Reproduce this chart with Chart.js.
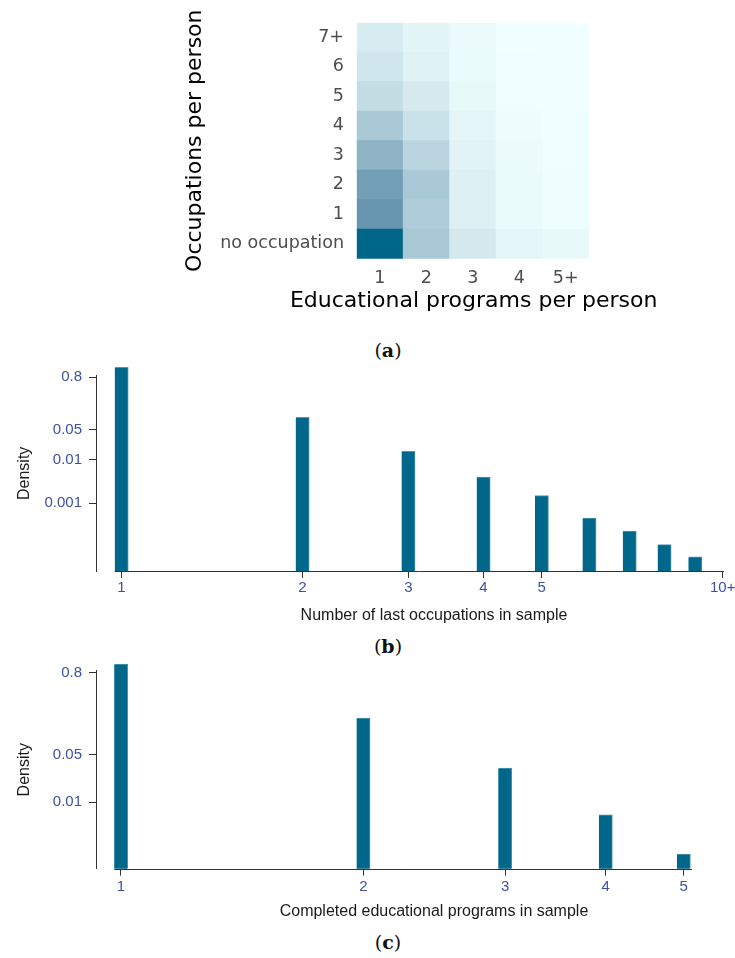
<!DOCTYPE html>
<html><head><meta charset="utf-8">
<script src="https://cdn.jsdelivr.net/npm/chart.js@4.4.1/dist/chart.umd.min.js"></script>
<style>
html,body{margin:0;padding:0;background:#fff;width:735px;height:958px;overflow:hidden;}
canvas.c{position:absolute;left:0;}
.cap{position:absolute;left:0;width:776px;text-align:center;font-family:"DejaVu Serif",serif;font-size:19px;line-height:24px;height:24px;color:#111;}
.xt{position:absolute;left:0;width:868px;text-align:center;font-family:"Liberation Sans",Arial,sans-serif;font-size:16px;line-height:20px;height:20px;color:#1a1a1a;white-space:nowrap;}
.ht{position:absolute;left:273.7px;width:400px;text-align:center;font-family:"DejaVu Sans",sans-serif;font-size:22px;line-height:26px;height:26px;color:#000;white-space:nowrap;}
</style></head>
<body>
<canvas id="ca" class="c" style="top:0px" width="735" height="330"></canvas>
<div class="ht" style="top:287.4px">Educational programs per person</div>
<div class="cap" style="top:338px">(<b>a</b>)</div>
<canvas id="cb" class="c" style="top:355px" width="735" height="275"></canvas>
<div class="xt" style="top:605px">Number of last occupations in sample</div>
<div class="cap" style="top:634px">(<b>b</b>)</div>
<canvas id="cc" class="c" style="top:650px" width="735" height="275"></canvas>
<div class="xt" style="top:901px">Completed educational programs in sample</div>
<div class="cap" style="top:930px">(<b>c</b>)</div>
<script>
// ---------- Panel (a): heatmap data (relative intensity 0..1) ----------
const eduLabels = ['1', '2', '3', '4', '5+'];
const occLabels = ['no occupation', '1', '2', '3', '4', '5', '6', '7+'];
const shareNoOcc = [1.00, 0.37, 0.15, 0.060, 0.040];
const shareOcc1  = [0.70, 0.34, 0.10, 0.030, 0.010];
const shareOcc2  = [0.65, 0.36, 0.10, 0.030, 0.008];
const shareOcc3  = [0.51, 0.28, 0.077, 0.020, 0.007];
const shareOcc4  = [0.36, 0.20, 0.060, 0.014, 0.004];
const shareOcc5  = [0.23, 0.14, 0.040, 0.007, 0.002];
const shareOcc6  = [0.17, 0.085, 0.030, 0.003, 0.001];
const shareOcc7p = [0.13, 0.070, 0.028, 0.000, 0.000];

// ---------- Panel (b) ----------
const occCounts  = [1, 2, 3, 4, 5, 6, 7, 8, 9];
const occDensity = [1.36, 0.0953, 0.0156, 0.00398, 0.00148, 0.000451, 0.000226, 0.000109, 0.0000575];
const occTickValues = [1, 2, 3, 4, 5, 10];
const occTickLabels = ['1', '2', '3', '4', '5', '10+'];
const occDensTickValues = [0.001, 0.01, 0.05, 0.8];
const occDensTickLabels = ['0.001', '0.01', '0.05', '0.8'];

// ---------- Panel (c) ----------
const eduCounts  = [1, 2, 3, 4, 5];
const eduDensity = [1.07, 0.172, 0.0316, 0.0065, 0.00172];
const eduTickValues = [1, 2, 3, 4, 5];
const eduTickLabels = ['1', '2', '3', '4', '5'];
const eduDensTickValues = [0.01, 0.05, 0.8];
const eduDensTickLabels = ['0.01', '0.05', '0.8'];

Chart.defaults.animation = false;
Chart.defaults.plugins.legend.display = false;
Chart.defaults.plugins.tooltip.enabled = false;
Chart.defaults.responsive = false;

function heatColor(t) {
  const stops = [[0, [240, 255, 255]], [0.7, [104, 150, 176]], [1, [0, 102, 136]]];
  for (let i = 1; i < stops.length; i++) {
    if (t <= stops[i][0]) {
      const [t0, c0] = stops[i - 1], [t1, c1] = stops[i];
      const f = (t - t0) / (t1 - t0);
      const c = c0.map((v, k) => Math.round(v + (c1[k] - v) * f));
      return `rgb(${c[0]},${c[1]},${c[2]})`;
    }
  }
  return 'rgb(0,102,136)';
}

const heatRows = [shareNoOcc, shareOcc1, shareOcc2, shareOcc3, shareOcc4, shareOcc5, shareOcc6, shareOcc7p];

new Chart(document.getElementById('ca'), {
  type: 'bar',
  data: {
    labels: eduLabels,
    datasets: heatRows.map((row, i) => ({
      label: occLabels[i],
      data: row.map(() => 1),
      backgroundColor: row.map(heatColor),
      borderWidth: 0,
      barPercentage: 1,
      categoryPercentage: 1
    }))
  },
  options: {
    layout: { padding: { top: 22.7, right: 146, left: 0, bottom: 0 } },
    scales: {
      x: {
        stacked: true,
        grid: { display: false, drawTicks: false },
        border: { display: false },
        ticks: { color: '#4d4d4d', font: { family: 'DejaVu Sans', size: 17.5 }, padding: 9.5, maxRotation: 0 },
        afterFit(s) { s.height = 71.3; s.paddingLeft = 0; s.paddingRight = 0; }
      },
      y: {
        type: 'linear', stacked: true, min: 0, max: occLabels.length,
        grid: { display: false, drawTicks: false },
        border: { display: false },
        afterBuildTicks(s) { s.ticks = occLabels.map((_, i) => ({ value: i + 0.5 })); },
        ticks: { color: '#4d4d4d', font: { family: 'DejaVu Sans', size: 17.5 }, padding: 12.7,
                 autoSkip: false, callback: (v, i) => occLabels[i] },
        title: { display: true, text: 'Occupations per person', color: '#000',
                 font: { family: 'DejaVu Sans', size: 22 }, padding: { top: 182, bottom: 0 } },
        afterFit(s) { s.width = 356.7; s.paddingTop = 0; s.paddingBottom = 0; }
      }
    }
  }
});

const axisLinePlugin = {
  id: 'axisLine',
  afterDatasetsDraw(chart, args, opts) {
    const { ctx, chartArea, scales: { x } } = chart;
    const x0 = x.getPixelForValue(opts.from) - opts.half;
    ctx.save();
    ctx.strokeStyle = '#333';
    ctx.lineWidth = 1;
    ctx.beginPath();
    ctx.moveTo(x0, Math.round(chartArea.bottom) + 0.5);
    ctx.lineTo(chartArea.right, Math.round(chartArea.bottom) + 0.5);
    ctx.stroke();
    ctx.restore();
  }
};

function densityChart(id, counts, dens, xTicks, xLabels, yTicks, yLabels, xmin, xmax, ymin, ymax, padRight, xHeight, xPad) {
  const tickFont = { family: 'Liberation Sans', size: 15 };
  return new Chart(document.getElementById(id), {
    type: 'bar',
    data: {
      datasets: [{
        data: counts.map((c, i) => ({ x: c, y: dens[i] })),
        backgroundColor: '#00668a',
        borderColor: '#4f98b2',
        borderWidth: { top: 1, right: 1, left: 0, bottom: 0 },
        borderSkipped: 'start',
        barThickness: 13.5,
        clip: false
      }]
    },
    options: {
      layout: { padding: { top: 20.7, right: padRight, left: 0, bottom: 0 } },
      plugins: { axisLine: { from: counts[0], half: 6.75 } },
      scales: {
        x: {
          type: 'logarithmic', min: xmin, max: xmax, offset: false,
          afterBuildTicks(s) { s.ticks = xTicks.map(v => ({ value: v })); },
          ticks: { color: '#3d51a3', font: tickFont, padding: xPad, autoSkip: false, maxRotation: 0,
                   callback: (v, i) => xLabels[i] },
          grid: { offset: false, drawOnChartArea: false, drawTicks: true, tickLength: 7, color: '#333' },
          border: { display: false },
          afterFit(s) { s.height = xHeight; s.paddingLeft = 0; s.paddingRight = 0; }
        },
        y: {
          type: 'logarithmic', min: ymin, max: ymax,
          afterBuildTicks(s) { s.ticks = yTicks.map(v => ({ value: v })); },
          ticks: { color: '#3d51a3', font: tickFont, padding: 7, autoSkip: false,
                   callback: (v, i) => yLabels[i] },
          grid: { drawOnChartArea: false, drawTicks: true, tickLength: 7, color: '#333' },
          border: { display: true, color: '#333', width: 1 },
          title: { display: true, text: 'Density', color: '#1a1a1a',
                   font: { family: 'Liberation Sans', size: 16 }, padding: { top: 14.7, bottom: 0 } },
          afterFit(s) { s.width = 96; s.paddingTop = 0; s.paddingBottom = 0; }
        }
      }
    },
    plugins: [axisLinePlugin]
  });
}

densityChart('cb', occCounts, occDensity, occTickValues, occTickLabels, occDensTickValues, occDensTickLabels,
             0.907, 10.05, 2.69e-5, 0.871, 11, 59, 1.3);
densityChart('cc', eduCounts, eduDensity, eduTickValues, eduTickLabels, eduDensTickValues, eduDensTickLabels,
             0.931, 5.121, 0.001045, 0.853, 43, 56.3, 1.8);
</script>
</body></html>
